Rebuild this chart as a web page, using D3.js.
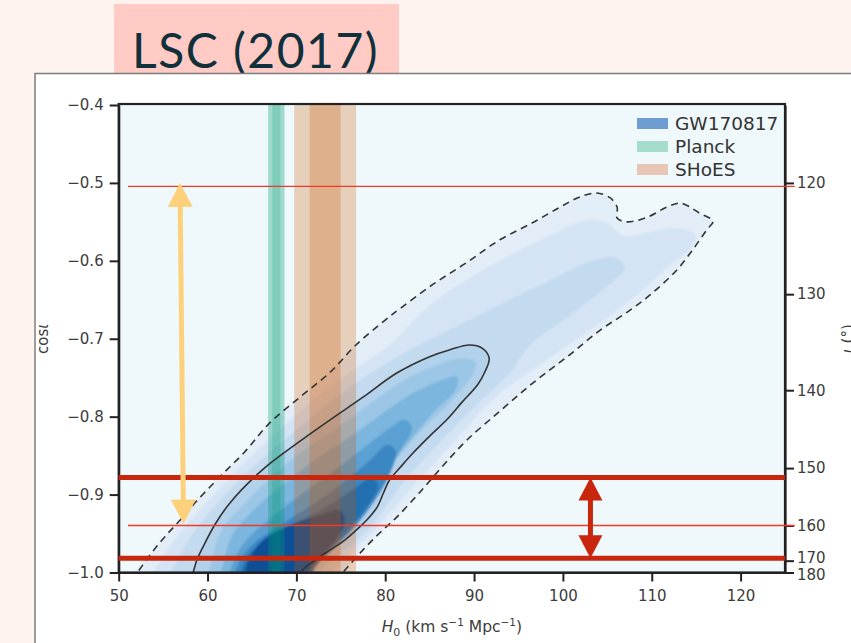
<!DOCTYPE html>
<html>
<head>
<meta charset="utf-8">
<script src="https://cdn.jsdelivr.net/npm/d3@7"></script>
<style>
  html, body { margin: 0; padding: 0; background: #fff3f0; }
  svg { display: block; }
</style>
</head>
<body>
<svg id="chart" width="851" height="643"></svg>
<script>
// ---- axis ticks ----
const h0Ticks = [50, 60, 70, 80, 90, 100, 110, 120];
const cosTicks = [-1.0, -0.9, -0.8, -0.7, -0.6, -0.5, -0.4];
const inclinationTicks = [120, 130, 140, 150, 160, 170, 180];

// ---- legend ----
const legendLabels = ["GW170817", "Planck", "SHoES"];

// ---- independent H0 measurements: [mean, sigma] ----
const planckH0 = [67.74, 0.46];
const shoesH0 = [73.24, 1.74];

// ---- GW170817 posterior, credible contours as [H0, cos i] ----
const contour90 = [[51.5,-1.010],[53.5,-0.978],[55.2,-0.954],[56.9,-0.933],[58.8,-0.908],[61.4,-0.877],[64.2,-0.845],[67.0,-0.808],[70.4,-0.775],[73.8,-0.743],[76.7,-0.708],[80.0,-0.676],[81.7,-0.661],[85.4,-0.630],[89.2,-0.602],[92.9,-0.573],[96.6,-0.551],[99.7,-0.531],[101.9,-0.518],[103.8,-0.513],[105.3,-0.519],[106.1,-0.531],[106.1,-0.545],[107.2,-0.550],[109.5,-0.544],[111.7,-0.531],[113.2,-0.526],[114.3,-0.531],[115.4,-0.539],[116.9,-0.549],[116.2,-0.560],[114.6,-0.586],[112.8,-0.612],[110.1,-0.641],[107.6,-0.663],[104.2,-0.689],[100.5,-0.723],[96.6,-0.757],[92.9,-0.793],[89.2,-0.830],[86.5,-0.863],[83.9,-0.897],[81.3,-0.929],[79.4,-0.949],[77.5,-0.971],[75.3,-0.999],[74.4,-1.010]];
const contour68 = [[58.0,-1.010],[58.4,-0.999],[58.8,-0.984],[59.5,-0.967],[60.8,-0.939],[62.5,-0.911],[66.2,-0.868],[70.1,-0.834],[73.8,-0.804],[77.5,-0.775],[81.3,-0.744],[85.0,-0.723],[87.3,-0.714],[89.5,-0.708],[90.9,-0.712],[91.7,-0.725],[91.2,-0.743],[90.4,-0.759],[88.6,-0.782],[87.0,-0.803],[85.0,-0.825],[83.1,-0.847],[81.7,-0.865],[80.5,-0.881],[79.8,-0.898],[79.1,-0.916],[77.9,-0.933],[76.8,-0.945],[75.5,-0.958],[73.8,-0.971],[72.1,-0.984],[70.7,-0.997],[70.1,-1.010]];

// density shells between and inside the contours, outermost first
const shellA = [[53.5,-1.010],[54.0,-0.999],[55.8,-0.965],[58.1,-0.933],[62.6,-0.877],[68.9,-0.808],[76.0,-0.743],[80.5,-0.708],[85.0,-0.657],[89.5,-0.622],[94.0,-0.593],[98.6,-0.567],[102.5,-0.548],[104.7,-0.550],[107.0,-0.568],[109.8,-0.563],[112.6,-0.558],[114.9,-0.567],[114.3,-0.586],[112.1,-0.605],[109.6,-0.631],[106.2,-0.663],[101.4,-0.702],[96.2,-0.743],[92.0,-0.779],[88.3,-0.825],[83.8,-0.881],[78.8,-0.945],[73.9,-0.999],[73.2,-1.010]];
const shellB = [[55.2,-1.010],[55.9,-0.999],[57.5,-0.965],[59.5,-0.933],[64.0,-0.877],[70.9,-0.808],[77.2,-0.753],[82.8,-0.714],[88.4,-0.682],[94.0,-0.650],[99.1,-0.622],[103.1,-0.601],[105.9,-0.596],[107.0,-0.609],[104.7,-0.635],[100.8,-0.670],[96.3,-0.708],[94.1,-0.743],[90.8,-0.779],[86.8,-0.825],[82.3,-0.881],[78.0,-0.945],[72.5,-0.999],[71.9,-1.010]];
const shellC = [[60.3,-1.010],[60.5,-0.984],[61.6,-0.945],[63.7,-0.917],[67.0,-0.879],[70.7,-0.844],[74.5,-0.815],[78.1,-0.785],[81.7,-0.756],[85.3,-0.736],[88.4,-0.725],[90.2,-0.730],[89.8,-0.747],[87.5,-0.779],[83.9,-0.820],[82.0,-0.845],[79.5,-0.879],[78.1,-0.913],[75.8,-0.939],[73.0,-0.965],[70.0,-0.993],[68.7,-1.010]];
const shellD = [[61.6,-1.010],[61.9,-0.984],[62.8,-0.952],[65.0,-0.922],[68.2,-0.890],[71.8,-0.858],[75.5,-0.830],[79.2,-0.800],[82.8,-0.772],[86.2,-0.754],[88.1,-0.749],[87.9,-0.766],[85.7,-0.791],[82.8,-0.830],[80.8,-0.858],[78.5,-0.894],[76.9,-0.922],[74.7,-0.949],[71.9,-0.975],[69.3,-0.999],[68.4,-1.010]];
const shellE = [[62.5,-1.010],[62.9,-0.987],[64.2,-0.961],[66.8,-0.933],[70.4,-0.901],[74.4,-0.868],[77.7,-0.839],[80.5,-0.815],[82.2,-0.804],[83.0,-0.815],[81.7,-0.843],[80.0,-0.875],[78.3,-0.907],[76.3,-0.935],[73.8,-0.961],[71.0,-0.987],[69.5,-1.010]];
const shellF = [[63.2,-1.010],[63.5,-0.988],[65.0,-0.965],[67.9,-0.941],[71.8,-0.913],[75.1,-0.886],[78.1,-0.858],[80.3,-0.836],[81.2,-0.845],[80.3,-0.879],[78.5,-0.913],[76.3,-0.945],[73.8,-0.974],[71.5,-0.999],[71.0,-1.010]];
const shellG = [[63.9,-1.010],[64.3,-0.984],[66.1,-0.962],[69.5,-0.940],[73.2,-0.917],[76.3,-0.894],[78.5,-0.879],[79.2,-0.888],[78.1,-0.913],[76.0,-0.943],[73.8,-0.971],[72.1,-0.994],[71.5,-1.010]];
const shellH = [[64.4,-1.007],[64.9,-0.978],[66.5,-0.956],[69.5,-0.938],[72.7,-0.926],[74.9,-0.920],[75.5,-0.933],[74.4,-0.958],[72.4,-0.984],[71.0,-1.003],[70.4,-1.010]];

// ---- inclination markers, in degrees ----
const thinLinesDeg = [120.3, 160];
const thickLinesDeg = [151.4, 169.0];
const thinLineSpanH0 = [51.05, 126.1];
const thickLineSpanH0 = [50, 125];
// double arrows: [[H0, inclination], [H0, inclination]]
const yellowArrow = [[56.9, 120.0], [57.3, 159.6]];
const redArrow = [[103.1, 151.4], [103.1, 169.0]];

// ---------------------------------------------------------------
const svg = d3.select("#chart");

const x = d3.scaleLinear().domain([50, 125]).range([118.7, 785]);
const y = d3.scaleLinear().domain([-1.0, -0.4]).range([572.5, 105]);
const deg = a => Math.cos(a * Math.PI / 180);

const sansFont = "'DejaVu Sans', 'Liberation Sans', Arial, sans-serif";

// page header
svg.append("rect").attr("x", 114).attr("y", 4).attr("width", 285).attr("height", 70)
  .attr("fill", "#ffcbc4");
svg.append("text").attr("x", 132).attr("y", 68)
  .attr("font-family", "Lato, 'Open Sans', sans-serif").attr("font-size", 48)
  .attr("letter-spacing", 1.5)
  .attr("fill", "#10303b").text("LSC (2017)");

// figure panel
svg.append("rect").attr("x", 35).attr("y", 73.5).attr("width", 900).attr("height", 700)
  .attr("fill", "#ffffff").attr("stroke", "#7d7d7d").attr("stroke-width", 1.5);

const [x0, x1] = x.range();
const [yb, yt] = y.range();

const defs = svg.append("defs");
defs.append("clipPath").attr("id", "plotClip").append("rect")
  .attr("x", x0).attr("y", yt).attr("width", x1 - x0).attr("height", yb - yt);
const soft = defs.append("filter").attr("id", "soft").attr("x", "-5%").attr("y", "-5%")
  .attr("width", "110%").attr("height", "110%");
soft.append("feGaussianBlur").attr("stdDeviation", 1.1);

// plot background
svg.append("rect").attr("x", x0).attr("y", yt).attr("width", x1 - x0).attr("height", yb - yt)
  .attr("fill", "#eff8fa");

const plot = svg.append("g").attr("clip-path", "url(#plotClip)");

const closed = d3.line().x(d => x(d[0])).y(d => y(d[1])).curve(d3.curveCatmullRomClosed.alpha(0.5));
const open = d3.line().x(d => x(d[0])).y(d => y(d[1])).curve(d3.curveCatmullRom.alpha(0.5));

// posterior density, filled shells
const shells = [contour90, shellA, shellB, contour68, shellC, shellD, shellE, shellF, shellG, shellH];
const shellColors = ["#e2edf8", "#d4e4f4", "#c3daef", "#b2d1eb", "#9bc6e5", "#7bb5dd", "#5aa0d2", "#3a87c3", "#2170b1", "#0d4f97"];
const dens = plot.append("g").attr("filter", "url(#soft)");
dens.selectAll("path").data(shells).join("path")
  .attr("d", closed).attr("fill", (d, i) => shellColors[i]);

// H0 bands (2 sigma outer, 1 sigma inner)
function band(m, colour, outerOp, innerOp) {
  [[2, outerOp], [1, innerOp]].forEach(([k, op]) => {
    plot.append("rect")
      .attr("x", x(m[0] - k * m[1])).attr("width", x(m[0] + k * m[1]) - x(m[0] - k * m[1]))
      .attr("y", yt).attr("height", yb - yt)
      .attr("fill", colour).attr("fill-opacity", op);
  });
}
band(planckH0, "#009a73", 0.33, 0.2);
band(shoesH0, "#cc5200", 0.25, 0.25);

// credible contours
plot.append("path").attr("d", open(contour90)).attr("fill", "none")
  .attr("stroke", "#333").attr("stroke-width", 1.6).attr("stroke-dasharray", "7,5");
plot.append("path").attr("d", open(contour68)).attr("fill", "none")
  .attr("stroke", "#333").attr("stroke-width", 1.6);

// legend
const legendColors = ["#6f9cd1", "#a6dccb", "#e8c6b5"];
const lg = svg.append("g");
legendLabels.forEach((t, i) => {
  lg.append("rect").attr("x", 637).attr("y", 118 + i * 23).attr("width", 31).attr("height", 11)
    .attr("fill", legendColors[i]);
  lg.append("text").attr("x", 675).attr("y", 130 + i * 23)
    .attr("font-family", sansFont).attr("font-size", 18.5).attr("fill", "#333")
    .text(t);
});

// frame & axes
svg.append("rect").attr("x", x0).attr("y", yt - 1).attr("width", x1 - x0).attr("height", yb - yt + 1)
  .attr("fill", "none").attr("stroke", "#222").attr("stroke-width", 2.2);

function styleAxis(g) {
  g.select(".domain").attr("stroke", "#222").attr("stroke-width", 2.2);
  g.selectAll(".tick line").attr("stroke", "#222").attr("stroke-width", 2);
  g.selectAll(".tick text").attr("fill", "#3c3c3c").attr("font-family", sansFont).attr("font-size", 15);
}

svg.append("g").attr("transform", `translate(${x0},0)`)
  .call(d3.axisLeft(y).tickValues(cosTicks).tickFormat(d3.format(".1f"))
    .tickSize(9).tickPadding(6).tickSizeOuter(0))
  .call(styleAxis);

svg.append("g").attr("transform", `translate(0,${yb})`)
  .call(d3.axisBottom(x).tickValues(h0Ticks).tickSize(9).tickPadding(9).tickSizeOuter(0))
  .call(styleAxis);

const rightAxis = svg.append("g").attr("transform", `translate(${x1},0)`)
  .call(d3.axisRight(y).tickValues(inclinationTicks.map(deg))
    .tickFormat((v, i) => inclinationTicks[i]).tickSize(9).tickPadding(3).tickSizeOuter(0))
  .call(styleAxis);
// the two bottom labels crowd together, so spread them slightly apart
rightAxis.selectAll(".tick text").attr("transform", (v, i) =>
  inclinationTicks[i] === 170 ? "translate(0,-3)" : inclinationTicks[i] === 180 ? "translate(0,2.5)" : null);

// axis titles
const yLab = svg.append("text").attr("transform", `translate(48,${(yt + yb) / 2}) rotate(-90)`)
  .attr("text-anchor", "middle").attr("font-family", sansFont).attr("font-size", 15).attr("fill", "#3c3c3c");
yLab.append("tspan").text("cos");
yLab.append("tspan").attr("font-style", "italic").text("ι");

// right-hand title runs past the panel edge
const rLab = svg.append("text").attr("transform", `translate(853,${(yt + yb) / 2}) rotate(-90)`)
  .attr("text-anchor", "middle").attr("font-family", sansFont).attr("font-size", 15).attr("fill", "#3c3c3c");
rLab.append("tspan").attr("font-style", "italic").text("ι");
rLab.append("tspan").text(" (°)");

const xLab = svg.append("text").attr("x", (x0 + x1) / 2).attr("y", 632)
  .attr("text-anchor", "middle").attr("font-family", sansFont).attr("font-size", 15.5).attr("fill", "#3c3c3c");
xLab.append("tspan").attr("font-style", "italic").text("H");
xLab.append("tspan").attr("dy", 4).attr("font-size", 11).text("0");
xLab.append("tspan").attr("dy", -4).text(" (km s");
xLab.append("tspan").attr("dy", -6).attr("font-size", 10.5).text("−1");
xLab.append("tspan").attr("dy", 6).text(" Mpc");
xLab.append("tspan").attr("dy", -6).attr("font-size", 10.5).text("−1");
xLab.append("tspan").attr("dy", 6).text(")");

// inclination markers
thinLinesDeg.forEach(a => {
  svg.append("line").attr("x1", x(thinLineSpanH0[0])).attr("x2", x(thinLineSpanH0[1]))
    .attr("y1", y(deg(a))).attr("y2", y(deg(a)))
    .attr("stroke", "#f23b27").attr("stroke-width", 1.3);
});
thickLinesDeg.forEach(a => {
  svg.append("line").attr("x1", x(thickLineSpanH0[0])).attr("x2", x(thickLineSpanH0[1]))
    .attr("y1", y(deg(a))).attr("y2", y(deg(a)))
    .attr("stroke", "#c8270d").attr("stroke-width", 5);
});

// double-headed arrows
function doubleArrow(pts, colour, headW, headL, shaftW) {
  const [p, q] = pts.map(d => [x(d[0]), y(deg(d[1]))]);
  const dx = q[0] - p[0], dy = q[1] - p[1], len = Math.hypot(dx, dy);
  const ux = dx / len, uy = dy / len, nx = -uy, ny = ux;
  const g = svg.append("g").attr("fill", colour);
  g.append("line")
    .attr("x1", p[0] + ux * headL * 0.8).attr("y1", p[1] + uy * headL * 0.8)
    .attr("x2", q[0] - ux * headL * 0.8).attr("y2", q[1] - uy * headL * 0.8)
    .attr("stroke", colour).attr("stroke-width", shaftW);
  [[p, 1], [q, -1]].forEach(([t, s]) => {
    const bx = t[0] + s * ux * headL, by = t[1] + s * uy * headL;
    g.append("path").attr("d", d3.line()([
      t, [bx + nx * headW / 2, by + ny * headW / 2], [bx - nx * headW / 2, by - ny * headW / 2]
    ]) + "Z");
  });
}
doubleArrow(yellowArrow, "#fdd17b", 25, 24, 5);
doubleArrow(redArrow, "#c8270d", 24, 23, 5);
</script>
</body>
</html>
